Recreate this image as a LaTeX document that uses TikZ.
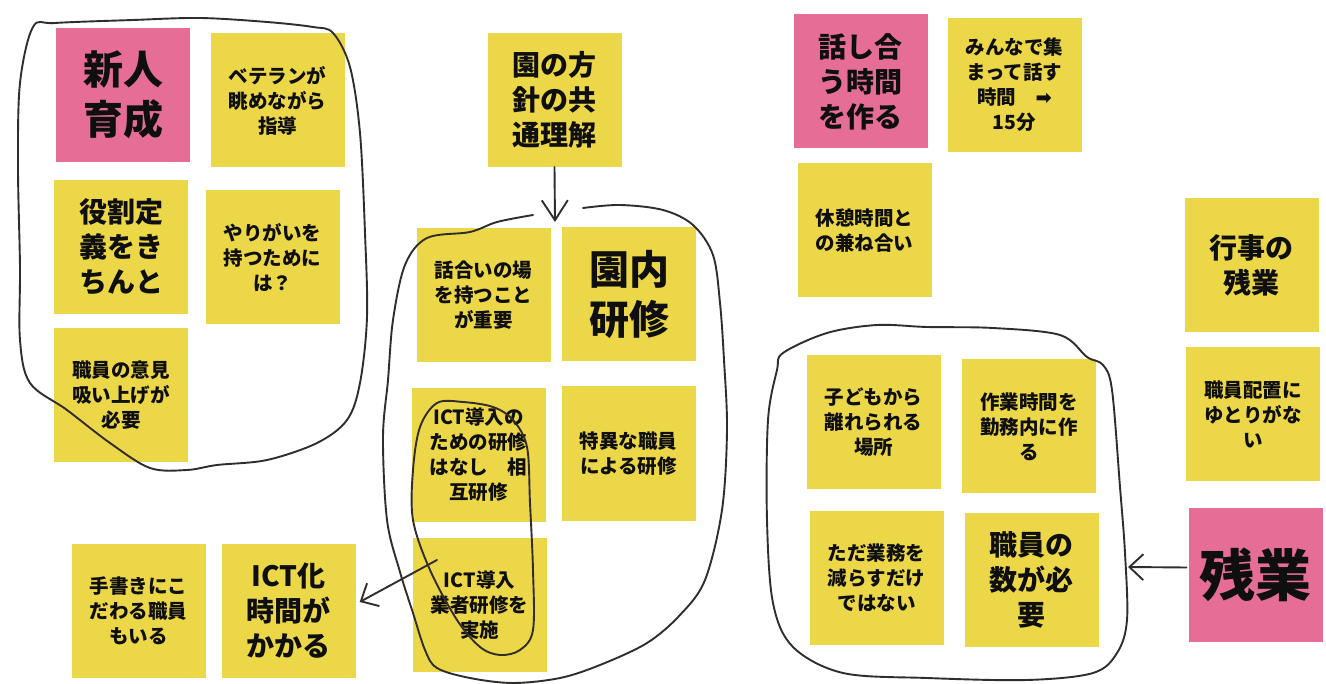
\documentclass[tikz,border=0pt]{standalone}
\usepackage{fontspec}
\setmainfont{Noto Sans CJK JP}
\newfontfamily\dvfont{DejaVu Sans}
\usetikzlibrary{arrows.meta}
\definecolor{noteyellow}{RGB}{236,215,72}
\definecolor{notepink}{RGB}{230,110,150}
\definecolor{inkdark}{RGB}{15,15,15}
\definecolor{penline}{RGB}{50,45,45}
\begin{document}
\begin{tikzpicture}[x=1pt,y=-1pt,
  note/.style={fill=noteyellow, inner sep=0pt, minimum width=134pt, minimum height=134pt, align=center, text=inkdark},
  pinknote/.style={note, fill=notepink},
  smalltxt/.style={font=\fontsize{19.5}{25}\selectfont\bfseries},
  medtxt/.style={font=\fontsize{28}{35}\selectfont\bfseries},
  bigtxt/.style={font=\fontsize{40}{50}\selectfont\bfseries},
  hugetxt/.style={font=\fontsize{56}{60}\selectfont\bfseries},
  pen/.style={draw=penline, line width=1.9pt, line cap=round, line join=round},
  penarrow/.style={pen, -{Straight Barb[length=14pt,width=26pt,line width=1.9pt]}}
]
\useasboundingbox[fill=white] (0,0) rectangle (1326,684);

% notes
\node[pinknote,bigtxt] (shinjin) at (123,95) {新人\\育成};
\node[note,smalltxt] (veteran) at (277.5,100.5) {ベテランが\\眺めながら\\指導};
\node[note,medtxt] (yakuwari) at (121,247) {役割定\\義をき\\ちんと};
\node[note,smalltxt] (yarigai) at (272.5,257.5) {やりがいを\\持つために\\は？};
\node[note,smalltxt] (iken) at (121,395) {職員の意見\\吸い上げが\\必要};
\node[note,medtxt] (hoshin) at (554.5,100) {園の方\\針の共\\通理解};
\node[note,smalltxt] (hanashiba) at (483.5,295.5) {話合いの場\\を持つこと\\が重要};
\node[note,bigtxt] (ennai) at (629,294.5) {園内\\研修};
\node[note,smalltxt] (ictnashi) at (478.5,455) {ICT導入の\\ための研修\\はなし　相\\互研修};
\node[note,smalltxt] (tokui) at (628.5,453.5) {特異な職員\\による研修};
\node[note,smalltxt] (gyosha) at (479.5,605) {ICT導入\\業者研修を\\実施};
\node[note,smalltxt] (tegaki) at (138.5,610.5) {手書きにこ\\だわる職員\\もいる};
\node[note,medtxt] (ictka) at (288.5,611) {ICT化\\時間が\\かかる};
\node[pinknote,medtxt] (jikan) at (860.5,81.5) {話し合\\う時間\\を作る};
\node[note,smalltxt] (minna) at (1014.5,85) {みんなで集\\まって話す\\時間　{\dvfont ➡}\\15分};
\node[note,smalltxt] (kyukei) at (864.5,230.5) {休憩時間と\\の兼ね合い};
\node[note,medtxt] (gyoji) at (1251.5,265.5) {行事の\\残業};
\node[note,smalltxt] (haichi) at (1253,414.5) {職員配置に\\ゆとりがな\\い};
\node[pinknote,hugetxt] (zangyo) at (1255.5,574.5) {残業};
\node[note,smalltxt] (kodomo) at (873.5,422.5) {子どもから\\離れられる\\場所};
\node[note,smalltxt] (sagyo) at (1029,426.5) {作業時間を\\勤務内に作\\る};
\node[note,smalltxt] (tada) at (876.5,577.5) {ただ業務を\\減らすだけ\\ではない};
\node[note,medtxt] (kazu) at (1031.5,580) {職員の\\数が必\\要};

% hand-drawn loops
\draw[pen] plot[smooth cycle, tension=0.55] coordinates {(33,27) (55,23) (133,20) (200,18) (267,22) (313,27) (333,33) (350,67) (360,133) (365,233) (367,317) (360,383) (347,420) (317,443) (267,460) (217,465) (187,470) (150,468) (110,443) (67,410) (30,383) (20,340) (20,267) (18,167) (20,83)};

\draw[pen] plot[smooth, tension=0.55] coordinates {(583,208) (620,205) (663,210) (693,225) (713,255) (720,303) (724,360) (727,430) (722,510) (705,580) (680,615) (647,643) (600,665) (560,678) (513,683) (470,678) (437,668) (425,650) (413,613) (400,572) (387,520) (383,437) (388,380) (393,320) (405,265) (427,238) (470,232) (497,222) (533,215)};

\draw[pen] plot[smooth cycle, tension=0.55] coordinates {(437,403) (463,402) (493,407) (513,420) (527,447) (530,503) (533,570) (533,630) (520,650) (500,655) (480,647) (457,620) (430,570) (413,520) (413,470) (420,427)};

\draw[pen] plot[smooth cycle, tension=0.55] coordinates {(783,353) (827,333) (877,325) (927,327) (993,328) (1060,335) (1087,357) (1103,365) (1112,390) (1120,487) (1125,553) (1127,620) (1117,653) (1093,673) (1027,680) (927,678) (843,673) (793,647) (773,603) (767,520) (768,420) (777,370)};

% arrows
\coordinate (tipA) at (555,222);
\draw[pen, -{Straight Barb[length=20pt,width=26pt,line width=1.9pt]}] (hoshin.south) -- (tipA);
\coordinate (startB) at (437,560);
\draw[penarrow] (startB) -- ([shift={(4,-9)}]ictka.east);
\coordinate (tipC) at (1128,567);
\draw[penarrow] ([shift={(-2,-7)}]zangyo.west) -- (tipC);
\end{tikzpicture}
\end{document}
